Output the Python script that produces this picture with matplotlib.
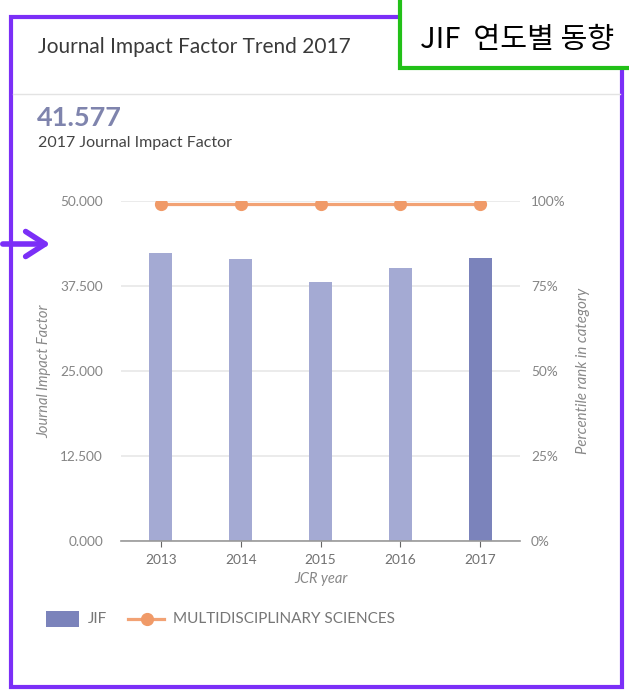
import matplotlib
matplotlib.use("Agg")
import matplotlib.pyplot as plt
from matplotlib.patches import Rectangle, FancyArrowPatch
from matplotlib.lines import Line2D

# données JCR
years = ["2013", "2014", "2015", "2016", "2017"]
jif = [42.351, 41.456, 38.138, 40.137, 41.577]
percentile = [99.0, 99.0, 99.0, 99.0, 99.0]
jif_ticks = [0, 12.5, 25, 37.5, 50]
pct_ticks = [0, 25, 50, 75, 100]
category = "MULTIDISCIPLINARY SCIENCES"

W, H = 629, 693
plt.rcParams['font.family'] = ['Lato', 'DejaVu Sans']

fig = plt.figure(figsize=(W/100, H/100), dpi=100)

def fx(px):
    return px / W

def fy(py):
    return 1 - py / H

ax = fig.add_axes([fx(121), fy(541), fx(520) - fx(121), fy(201) - fy(541)])
bar_cols = ['#a4aad3'] * (len(years) - 1) + ['#7b83bb']
x = list(range(len(years)))
ax.bar(x, jif, width=0.29, color=bar_cols, zorder=2)
ax.set_xlim(-0.5, len(years) - 0.5)
ax.set_ylim(0, 50)
ax.set_yticks(jif_ticks)
ax.set_yticklabels(["%.3f" % v for v in jif_ticks])
ax.set_xticks(x)
ax.set_xticklabels(years)
ax.grid(axis='y', color='#e8e8e8', lw=1.2, zorder=0)
for s in ['top', 'right', 'left']:
    ax.spines[s].set_visible(False)
ax.spines['bottom'].set_color('#999999')
ax.spines['bottom'].set_linewidth(1.2)
ax.tick_params(axis='y', length=0, pad=13, labelsize=9.8, labelcolor='#858585')
ax.tick_params(axis='x', length=4, color='#666666', pad=5, labelsize=9.8, labelcolor='#707070')
ax.set_xlabel("JCR year", fontsize=10.5, color='#888888', style='italic', labelpad=5)
ax.set_ylabel("Journal Impact Factor", fontsize=10.5, color='#888888', style='italic')
ax.yaxis.set_label_coords(-0.175, 0.5)

ax2 = ax.twinx()
ax2.set_ylim(0, 100)
ax2.set_yticks(pct_ticks)
ax2.set_yticklabels(["%d%%" % v for v in pct_ticks])
ax2.plot(x, percentile, color='#f2a274', lw=2.3, marker='o', ms=8.5,
         markerfacecolor='#f09a68', markeredgecolor='#f09a68', zorder=3)
for s in ax2.spines.values():
    s.set_visible(False)
ax2.tick_params(axis='y', length=0, pad=8, labelsize=9.8, labelcolor='#858585')
ax2.set_ylabel("Percentile rank in category", fontsize=10.8, color='#888888',
               style='italic')
ax2.yaxis.set_label_coords(1.14, 0.5)

# en-tête de la carte
fig.text(fx(38), fy(47), "Journal Impact Factor Trend 2017", fontsize=15,
         color='#3a3a3a', va='center')
fig.add_artist(Line2D([fx(13), fx(620)], [fy(94), fy(94)], color='#e3e3e3', lw=1))
fig.text(fx(37), fy(118), "%.3f" % jif[-1], fontsize=19.5, fontweight='bold',
         color='#7f84ad', va='center')
fig.text(fx(38), fy(143), "2017 Journal Impact Factor", fontsize=11.5,
         color='#444444', va='center')

# légende
fig.add_artist(Rectangle((fx(46), fy(627)), fx(79) - fx(46), fy(611) - fy(627),
                         facecolor='#7b83bb', edgecolor='none'))
fig.text(fx(88), fy(619), "JIF", fontsize=11, color='#777777', va='center')
fig.add_artist(Line2D([fx(128), fx(164)], [fy(619), fy(619)], color='#f2a274', lw=2.3))
fig.add_artist(Line2D([fx(147)], [fy(619)], marker='o', ms=8.5, color='#f09a68'))
fig.text(fx(173), fy(619), category, fontsize=11, color='#777777', va='center')

# cadre violet et flèche
fig.add_artist(Rectangle((fx(11), fy(687)), fx(622) - fx(11), fy(17) - fy(687),
                         fill=False, edgecolor='#7b2ff7', lw=3))
fig.add_artist(FancyArrowPatch((fx(0), fy(244)), (fx(53), fy(244)),
                               transform=fig.transFigure,
                               arrowstyle='->,head_length=0.7,head_width=0.45',
                               color='#7b2ff7', lw=4, mutation_scale=20))

# encadré vert
fig.add_artist(Rectangle((fx(400), fy(68)), fx(640) - fx(400), fy(-5) - fy(68),
                         facecolor='white', edgecolor='#22c018', lw=3))
fig.text(fx(420), fy(40), "JIF  연도별 동향", fontsize=21, color='black', va='center',
         family=['Noto Sans CJK KR', 'DejaVu Sans'])

fig.savefig("out.png", dpi=100)
